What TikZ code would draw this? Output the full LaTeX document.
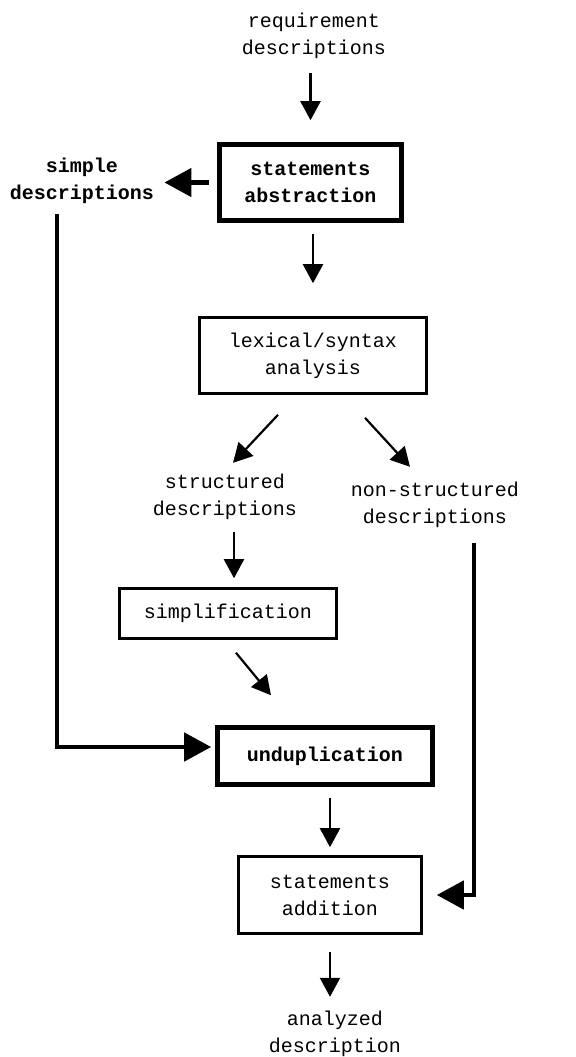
\documentclass[tikz,border=0pt]{standalone}
\usepackage{fontspec}
\setmonofont{Liberation Mono}
\usepackage{tikz}
\usetikzlibrary{arrows.meta}

\begin{document}
\begin{tikzpicture}[x=0.5pt, y=-0.5pt,
    font=\ttfamily\fontsize{10}{13.5}\selectfont,
    >={Triangle[length=9.5pt, width=10pt]},
    box/.style={draw, line width=1.3pt, align=center, inner sep=0pt},
    boldbox/.style={box, line width=2.3pt, font=\ttfamily\bfseries\fontsize{10}{13.5}\selectfont},
    lbl/.style={align=center, inner sep=0pt},
    flow/.style={->, line width=1.1pt},
    heavyflow/.style={-{Triangle[length=13.5pt, width=14pt]}, line width=2.3pt}]
    \useasboundingbox (0,0) rectangle (576,1057);
    \node[lbl] (req) at (314,36) {requirement\\descriptions};
    \node[boldbox, minimum width=91pt, minimum height=38pt] (abs) at (310.5,182.5) {statements\\abstraction};
    \node[lbl, font=\ttfamily\bfseries\fontsize{10}{13.5}\selectfont] (simple) at (82,181) {simple\\descriptions};
    \node[box, minimum width=113.5pt, minimum height=38pt] (lex) at (313,355.5) {lexical/syntax\\analysis};
    \node[lbl] (struct) at (225,497) {structured\\descriptions};
    \node[lbl] (nonstr) at (435,505) {non-structured\\descriptions};
    \node[box, minimum width=108.5pt, minimum height=25pt] (simp) at (228,613.5) {simplification};
    \node[boldbox, minimum width=107.5pt, minimum height=28.5pt] (undup) at (325,756) {unduplication};
    \node[box, minimum width=91.5pt, minimum height=38.5pt] (add) at (330,895) {statements\\addition};
    \node[lbl] (out) at (335,1034) {analyzed\\description};
    \draw[flow, shorten <=7pt, shorten >=11pt] (req.south -| abs.north) -- (abs.north);
    \draw[heavyflow, shorten <=4pt, shorten >=5pt] (abs.west) -- (abs.west -| simple.east);
    \draw[flow, shorten <=5.5pt, shorten >=16.5pt] (abs.south -| lex.north) -- (lex.north);
    \draw[flow] ([xshift=-17.5pt, yshift=-10pt]lex.south) -- ([xshift=4pt, yshift=5.5pt]struct.north);
    \draw[flow] ([xshift=26pt, yshift=-11.5pt]lex.south) -- ([xshift=-12.5pt, yshift=7.5pt]nonstr.north);
    \draw[flow, shorten <=6pt, shorten >=4.5pt] ([xshift=4.5pt]struct.south) -- ([xshift=3pt]simp.north);
    \draw[flow] ([xshift=4pt, yshift=-6.5pt]simp.south) -- ([xshift=-27pt, yshift=15pt]undup.north);
    \draw[heavyflow, shorten <=5pt, shorten >=2pt] ([xshift=-12.5pt]simple.south) |- ([yshift=4.5pt]undup.west);
    \draw[flow, shorten <=5.5pt, shorten >=4pt] (undup.south -| add.north) -- (add.north);
    \draw[heavyflow, shorten <=7.5pt, shorten >=7pt] ([xshift=19.5pt]nonstr.south) |- (add.east);
    \draw[flow, shorten <=8.5pt, shorten >=7pt] (add.south) -- (add.south |- out.north);
\end{tikzpicture}
\end{document}
